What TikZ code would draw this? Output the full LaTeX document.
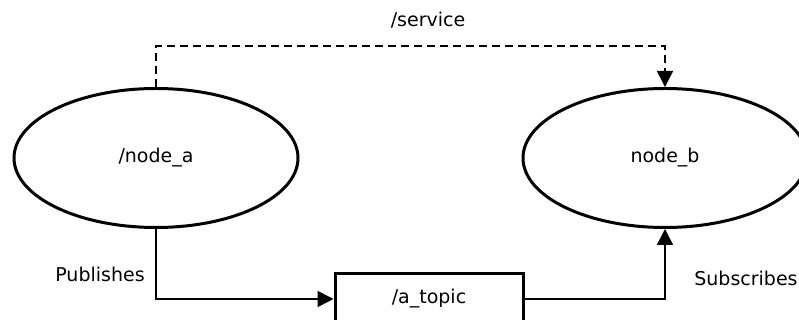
\documentclass[tikz,border=0pt]{standalone}
\usepackage{fontspec}
\setmainfont{DejaVu Sans}
\usetikzlibrary{arrows.meta, shapes.geometric}

\begin{document}
\begin{tikzpicture}[x=0.5pt, y=0.5pt,
        rosnode/.style={draw, ellipse, line width=1.5pt, minimum width=142pt, minimum height=69.5pt, inner sep=0pt},
        rostopic/.style={draw, rectangle, line width=1.5pt, minimum width=94pt, minimum height=25pt, inner sep=0pt},
        link/.style={line width=0.8pt, -{Triangle[length=8pt, width=8pt]}},
        lbl/.style={font=\fontsize{9.5}{11}\selectfont}]
        \path[use as bounding box, clip] (0,0) rectangle (799,320);
        \node[rosnode, lbl] (nodea) at (156,162) {/node\_a};
        \node[rosnode, lbl] (nodeb) at (665,162) {node\_b};
        \node[rostopic, lbl] (topic) at (429,21) {/a\_topic};
        \coordinate (srv) at (156,274);
        \draw[link, dash pattern=on 4pt off 2.5pt] (nodea.north) -- (srv) -| (nodeb.north);
        \draw[link] (nodea.south) |- (topic.west);
        \draw[link] (topic.east) -| (nodeb.south);
        \node[lbl] (srvlabel) at (428,300) {/service};
        \node[lbl] (publabel) at (100,46) {Publishes};
        \node[lbl] (sublabel) at (746,42) {Subscribes};
    \end{tikzpicture}
\end{document}
